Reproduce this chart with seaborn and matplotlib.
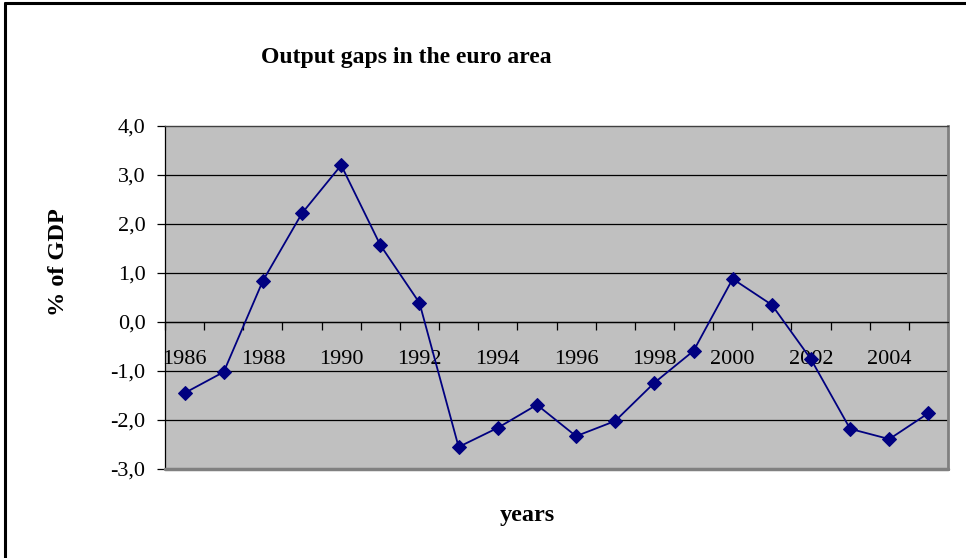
import matplotlib
matplotlib.use("Agg")
import matplotlib.pyplot as plt
import seaborn as sns
import pandas as pd
import numpy as np
from matplotlib.lines import Line2D

years = list(range(1986, 2006))
output_gap = [-1.45, -1.02, 0.84, 2.22, 3.20, 1.57, 0.39, -2.55, -2.16, -1.69,
              -2.33, -2.02, -1.24, -0.59, 0.88, 0.35, -0.76, -2.18, -2.39, -1.86]
year_labels = [str(y) for y in range(1986, 2006, 2)]
y_ticks = [-3, -2, -1, 0, 1, 2, 3, 4]
y_tick_labels = ["-3,0", "-2,0", "-1,0", "0,0", "1,0", "2,0", "3,0", "4,0"]

df = pd.DataFrame({"year": years, "gap": output_gap})

sns.set_style("white")
plt.rcParams["font.family"] = ["Liberation Serif", "DejaVu Serif"]
plt.rcParams["text.color"] = "black"
plt.rcParams["axes.labelcolor"] = "black"
plt.rcParams["xtick.color"] = "black"
plt.rcParams["ytick.color"] = "black"

W, H = 966, 558
fig = plt.figure(figsize=(W / 100, H / 100), dpi=100)
ax = fig.add_axes([165 / W, (H - 469) / H, 783 / W, 343 / H])
ax.set_facecolor("#C0C0C0")

sns.lineplot(data=df, x="year", y="gap", ax=ax, color="#000080", linewidth=1.3,
             marker="D", markersize=7, markeredgecolor="#000080", zorder=5)

ax.set_xlim(1985.5, 2005.5)
ax.set_ylim(-3, 4)
ax.set_xlabel("")
ax.set_ylabel("")

# horizontal gridlines
for yv in y_ticks[1:-1]:
    ax.axhline(yv, color="black", linewidth=0.9, zorder=1)

# y axis
ax.set_yticks(y_ticks)
ax.set_yticklabels(y_tick_labels, fontsize=16, color="black")
ax.tick_params(axis="y", direction="out", length=6, width=0.9, pad=8, left=True, colors="black")

# x axis at y=0
ax.spines["bottom"].set_position(("data", 0))
ax.spines["bottom"].set_color("black")
ax.spines["bottom"].set_linewidth(0.9)
boundaries = [y - 0.5 for y in years] + [years[-1] + 0.5]
ax.set_xticks(boundaries)
ax.set_xticklabels([""] * len(boundaries))
ax.tick_params(axis="x", which="major", direction="out", length=6, width=0.9, bottom=True, colors="black")
ax.set_xticks([int(l) for l in year_labels], minor=True)
ax.set_xticklabels(year_labels, minor=True, fontsize=16, color="black")
ax.tick_params(axis="x", which="minor", length=0, pad=20)

ax.spines["left"].set_color("black")
ax.spines["left"].set_linewidth(0.9)
ax.spines["top"].set_color("#404040")
ax.spines["top"].set_linewidth(1.0)
ax.spines["right"].set_color("#808080")
ax.spines["right"].set_linewidth(2.0)
ax.add_line(Line2D([0, 1], [0, 0], transform=ax.transAxes, color="#808080",
                   linewidth=2.5, zorder=6, clip_on=False))

# texts
fig.text(406 / W, 1 - 58 / H, "Output gaps in the euro area", ha="center", va="center",
         fontsize=17, fontweight="bold", color="black")
fig.text(58 / W, 1 - 262 / H, "% of GDP", ha="center", va="center", rotation=90,
         fontsize=17.5, fontweight="bold", color="black")
fig.text(527 / W, 1 - 515 / H, "years", ha="center", va="center",
         fontsize=17.5, fontweight="bold", color="black")

# figure border (top and left)
fig.add_artist(Line2D([5 / W, 5 / W], [0, 1 - 3 / H], transform=fig.transFigure, color="black", linewidth=2.2))
fig.add_artist(Line2D([5 / W, 1], [1 - 3 / H, 1 - 3 / H], transform=fig.transFigure, color="black", linewidth=2.2))

fig.savefig("out.png", dpi=100)
